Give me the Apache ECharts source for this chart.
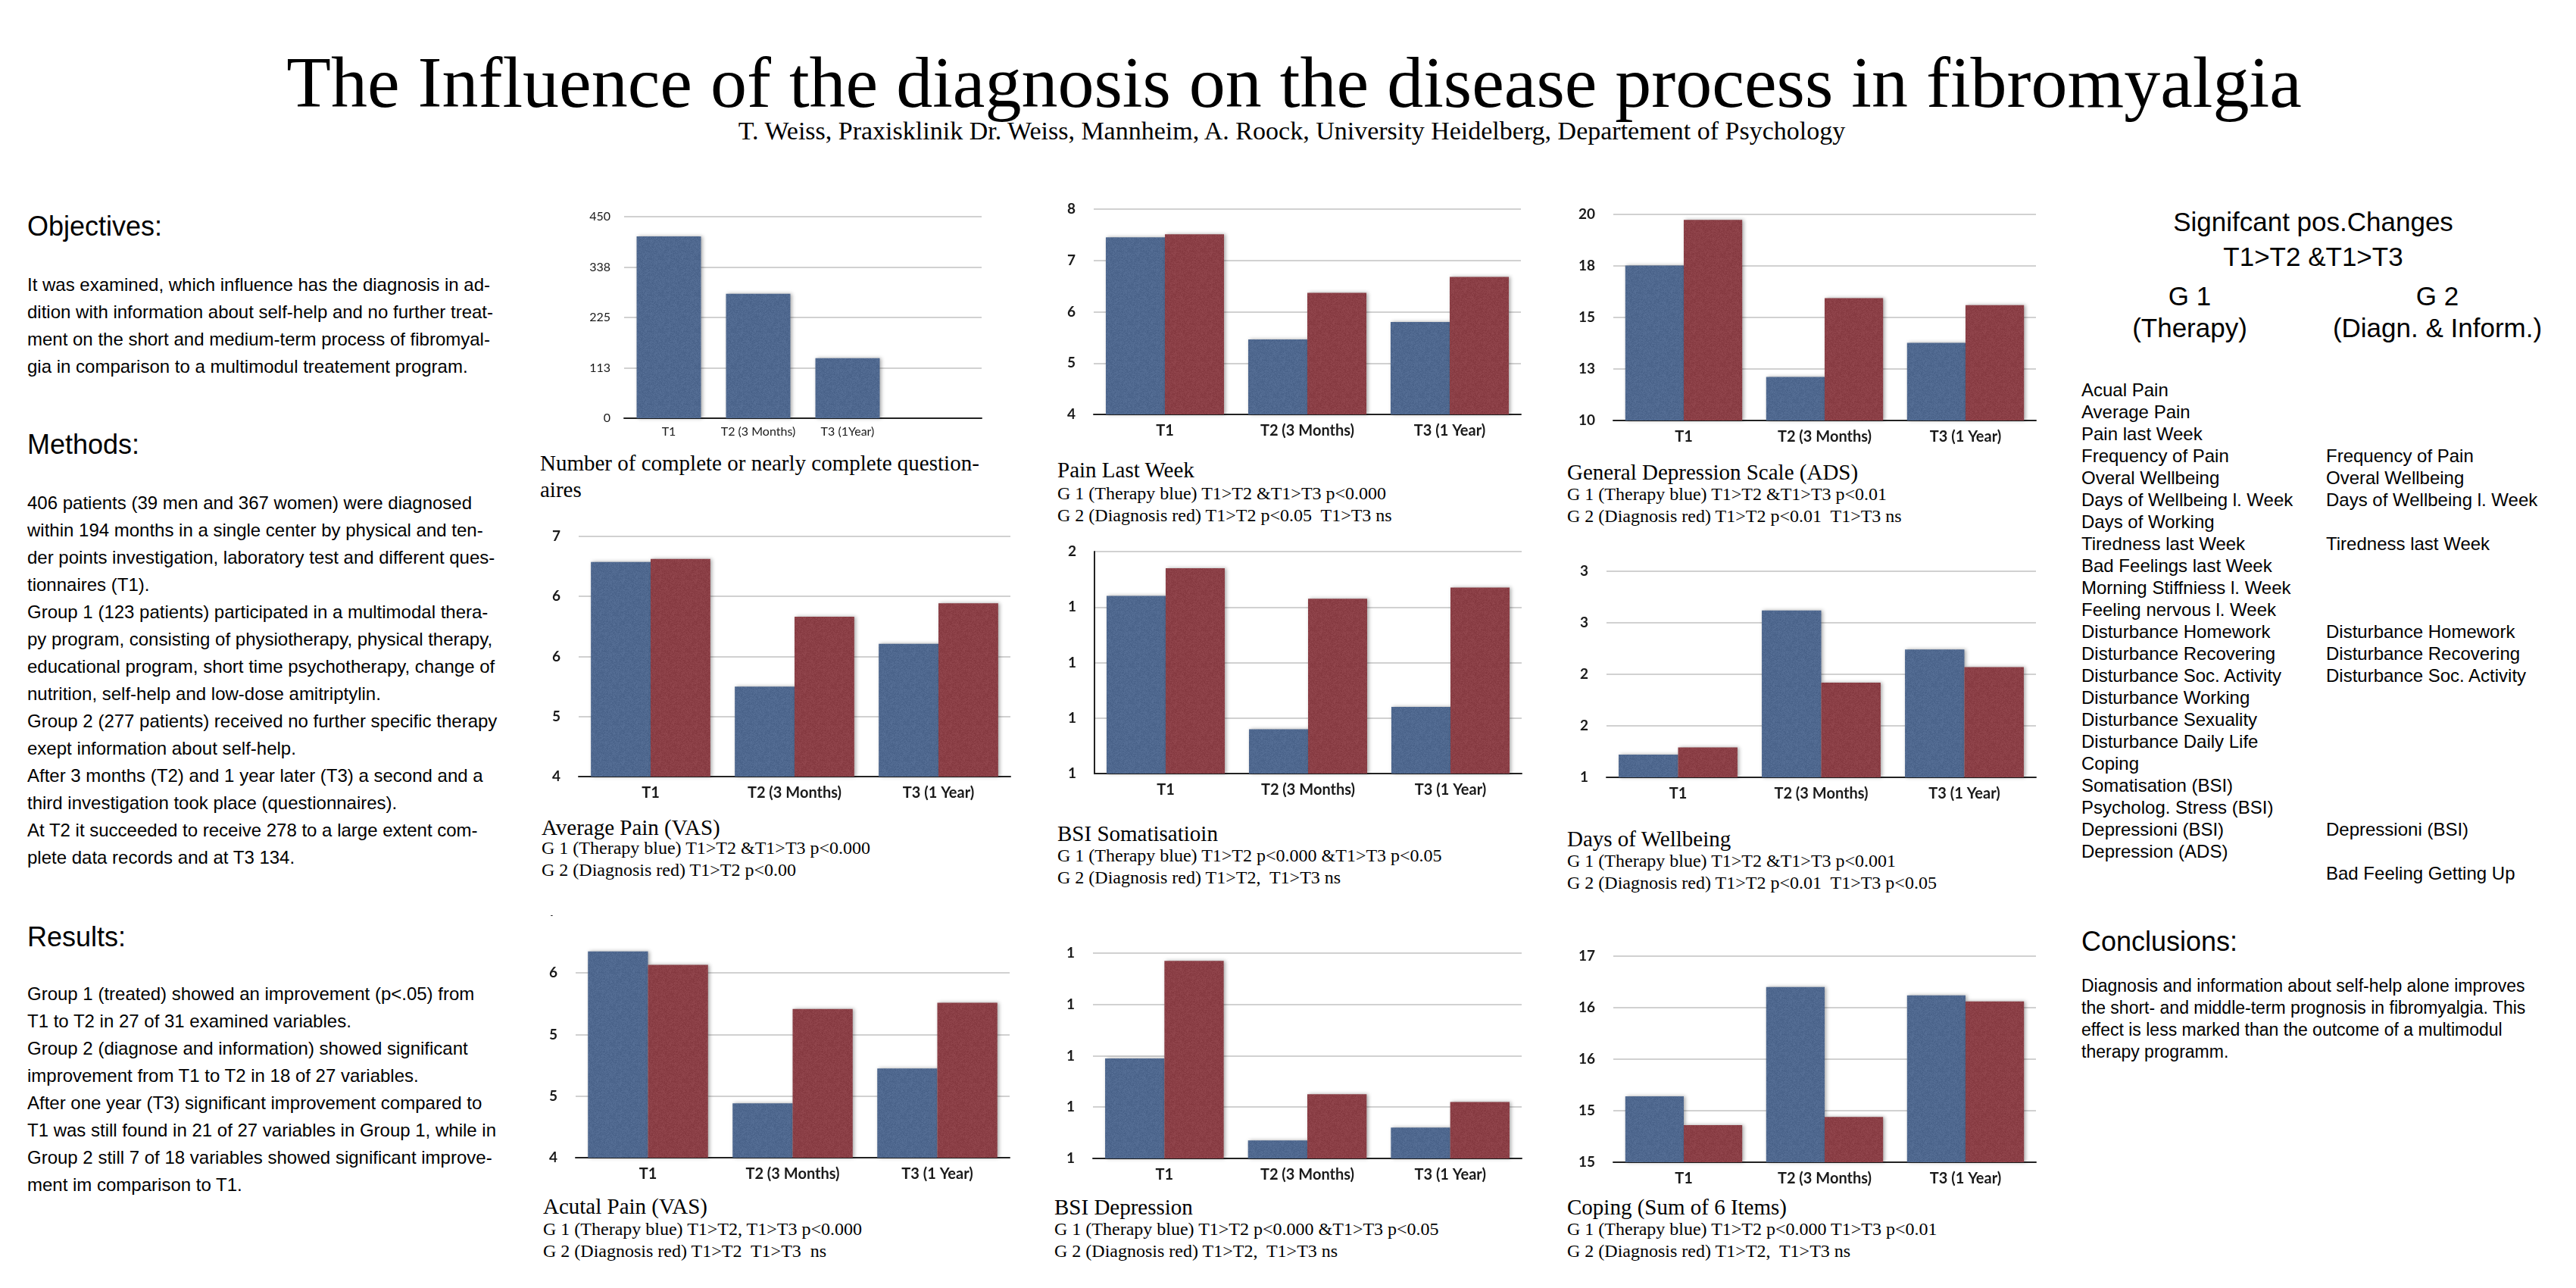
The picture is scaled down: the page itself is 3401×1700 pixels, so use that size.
<!DOCTYPE html>
<html>
<head>
<meta charset="utf-8">
<script src="https://cdn.jsdelivr.net/npm/echarts@6/dist/echarts.min.js"></script>
<style>
  html, body { margin: 0; padding: 0; background: #fff; }
  #page { position: relative; width: 3401px; height: 1700px; overflow: hidden; background: #fff; }
  .t { position: absolute; white-space: pre; color: #000; }
  .sans { font-family: "Liberation Sans", Arial, sans-serif; }
  .serif { font-family: "Liberation Serif", "Times New Roman", serif; }
  .chart { position: absolute; overflow: hidden; }
  .cap1 { font-size: 29px; line-height: 32px; }
  .cap2 { font-size: 24px; line-height: 29px; }
</style>
</head>
<body>
<div id="page">
  <!-- header -->
  <div class="t serif" style="left:8px;width:3401px;text-align:center;top:54px;font-size:96px;line-height:110px;">The Influence of the diagnosis on the disease process in fibromyalgia</div>
  <div class="t serif" style="left:5px;width:3401px;text-align:center;top:153px;font-size:34px;line-height:40px;">T. Weiss, Praxisklinik Dr. Weiss, Mannheim, A. Roock, University Heidelberg, Departement of Psychology</div>

  <!-- left column -->
  <div class="t sans" style="left:36px;top:277px;font-size:36px;line-height:44px;">Objectives:</div>
  <div class="t sans" style="left:36px;top:358px;font-size:24px;line-height:36px;">It was examined, which influence has the diagnosis in ad-
dition with information about self-help and no further treat-
ment on the short and medium-term process of fibromyal-
gia in comparison to a multimodul treatement program.</div>
  <div class="t sans" style="left:36px;top:565px;font-size:36px;line-height:44px;">Methods:</div>
  <div class="t sans" style="left:36px;top:646px;font-size:24px;line-height:36px;">406 patients (39 men and 367 women) were diagnosed
within 194 months in a single center by physical and ten-
der points investigation, laboratory test and different ques-
tionnaires (T1).
Group 1 (123 patients) participated in a multimodal thera-
py program, consisting of physiotherapy, physical therapy,
educational program, short time psychotherapy, change of
nutrition, self-help and low-dose amitriptylin.
Group 2 (277 patients) received no further specific therapy
exept information about self-help.
After 3 months (T2) and 1 year later (T3) a second and a
third investigation took place (questionnaires).
At T2 it succeeded to receive 278 to a large extent com-
plete data records and at T3 134.</div>
  <div class="t sans" style="left:36px;top:1215px;font-size:36px;line-height:44px;">Results:</div>
  <div class="t sans" style="left:36px;top:1294px;font-size:24px;line-height:36px;">Group 1 (treated) showed an improvement (p&lt;.05) from
T1 to T2 in 27 of 31 examined variables.
Group 2 (diagnose and information) showed significant
improvement from T1 to T2 in 18 of 27 variables.
After one year (T3) significant improvement compared to
T1 was still found in 21 of 27 variables in Group 1, while in
Group 2 still 7 of 18 variables showed significant improve-
ment im comparison to T1.</div>

  <!-- chart captions -->
  <div class="t serif cap1" style="left:713px;top:594px;line-height:35px;">Number of complete or nearly complete question-
aires</div>

  <div class="t serif cap1" style="left:1396px;top:604px;">Pain Last Week</div>
  <div class="t serif cap2" style="left:1396px;top:637px;">G 1 (Therapy blue) T1&gt;T2 &amp;T1&gt;T3 p&lt;0.000
G 2 (Diagnosis red) T1&gt;T2 p&lt;0.05  T1&gt;T3 ns</div>

  <div class="t serif cap1" style="left:2069px;top:607px;">General Depression Scale (ADS)</div>
  <div class="t serif cap2" style="left:2069px;top:638px;">G 1 (Therapy blue) T1&gt;T2 &amp;T1&gt;T3 p&lt;0.01
G 2 (Diagnosis red) T1&gt;T2 p&lt;0.01  T1&gt;T3 ns</div>

  <div class="t serif cap1" style="left:715px;top:1076px;">Average Pain (VAS)</div>
  <div class="t serif cap2" style="left:715px;top:1105px;">G 1 (Therapy blue) T1&gt;T2 &amp;T1&gt;T3 p&lt;0.000
G 2 (Diagnosis red) T1&gt;T2 p&lt;0.00</div>

  <div class="t serif cap1" style="left:1396px;top:1084px;">BSI Somatisatioin</div>
  <div class="t serif cap2" style="left:1396px;top:1115px;">G 1 (Therapy blue) T1&gt;T2 p&lt;0.000 &amp;T1&gt;T3 p&lt;0.05
G 2 (Diagnosis red) T1&gt;T2,  T1&gt;T3 ns</div>

  <div class="t serif cap1" style="left:2069px;top:1091px;">Days of Wellbeing</div>
  <div class="t serif cap2" style="left:2069px;top:1122px;">G 1 (Therapy blue) T1&gt;T2 &amp;T1&gt;T3 p&lt;0.001
G 2 (Diagnosis red) T1&gt;T2 p&lt;0.01  T1&gt;T3 p&lt;0.05</div>

  <div class="t serif cap1" style="left:717px;top:1576px;">Acutal Pain (VAS)</div>
  <div class="t serif cap2" style="left:717px;top:1608px;">G 1 (Therapy blue) T1&gt;T2, T1&gt;T3 p&lt;0.000
G 2 (Diagnosis red) T1&gt;T2  T1&gt;T3  ns</div>

  <div class="t serif cap1" style="left:1392px;top:1577px;">BSI Depression</div>
  <div class="t serif cap2" style="left:1392px;top:1608px;">G 1 (Therapy blue) T1&gt;T2 p&lt;0.000 &amp;T1&gt;T3 p&lt;0.05
G 2 (Diagnosis red) T1&gt;T2,  T1&gt;T3 ns</div>

  <div class="t serif cap1" style="left:2069px;top:1577px;">Coping (Sum of 6 Items)</div>
  <div class="t serif cap2" style="left:2069px;top:1608px;">G 1 (Therapy blue) T1&gt;T2 p&lt;0.000 T1&gt;T3 p&lt;0.01
G 2 (Diagnosis red) T1&gt;T2,  T1&gt;T3 ns</div>

  <!-- right column -->
  <div class="t sans" style="left:2754px;width:600px;text-align:center;top:270px;font-size:35px;line-height:46px;">Signifcant pos.Changes
T1&gt;T2 &amp;T1&gt;T3</div>
  <div class="t sans" style="left:2691px;width:400px;text-align:center;top:370px;font-size:35px;line-height:42px;">G 1
(Therapy)</div>
  <div class="t sans" style="left:3018px;width:400px;text-align:center;top:370px;font-size:35px;line-height:42px;">G 2
(Diagn. &amp; Inform.)</div>
  <div id="listG1" class="t sans" style="left:2748px;top:500px;font-size:24px;line-height:29px;"></div>
  <div id="listG2" class="t sans" style="left:3071px;top:500px;font-size:24px;line-height:29px;"></div>

  <div class="t sans" style="left:2748px;top:1221px;font-size:36px;line-height:44px;">Conclusions:</div>
  <div class="t sans" style="left:2748px;top:1287px;font-size:23px;line-height:29px;">Diagnosis and information about self-help alone improves
the short- and middle-term prognosis in fibromyalgia. This
effect is less marked than the outcome of a multimodul
therapy programm.</div>
</div>

<script>
// ---- data ----
const cats3 = ['T1', 'T2 (3 Months)', 'T3 (1 Year)'];

const countCats = ['T1', 'T2 (3 Months)', 'T3 (1Year)', ''];
const countValues = [406, 278, 134];
const countAxis = [0, 450, 112.5];

const painWeekG1 = [7.45, 5.46, 5.80];
const painWeekG2 = [7.51, 6.37, 6.68];
const painWeekAxis = [4, 8, 1];

const adsG1 = [17.52, 12.11, 13.77];
const adsG2 = [19.73, 15.94, 15.60];
const adsAxis = [10, 20, 2.5];

const avgPainG1 = [6.86, 5.20, 5.77];
const avgPainG2 = [6.90, 6.13, 6.31];
const avgPainAxis = [4, 7.2, 0.8];

const somG1 = [1.44, 0.96, 1.04];
const somG2 = [1.54, 1.43, 1.47];
const somAxis = [0.8, 1.6, 0.2];

const wellG1 = [1.22, 2.62, 2.24];
const wellG2 = [1.29, 1.92, 2.07];
const wellAxis = [1, 3, 0.5];

const acutePainG1 = [6.21, 4.73, 5.07];
const acutePainG2 = [6.08, 5.65, 5.71];
const acutePainAxis = [4.2, 6.6, 0.6];

const bsiDepG1 = [0.99, 0.67, 0.72];
const bsiDepG2 = [1.37, 0.85, 0.82];
const bsiDepAxis = [0.6, 1.4, 0.2];

const copingG1 = [15.14, 16.20, 16.12];
const copingG2 = [14.86, 14.94, 16.06];
const copingAxis = [14.5, 16.5, 0.5];

// significant changes list, '' = empty row
const listG1 = ['Acual Pain', 'Average Pain', 'Pain last Week', 'Frequency of Pain', 'Overal Wellbeing',
  'Days of Wellbeing l. Week', 'Days of Working', 'Tiredness last Week', 'Bad Feelings last Week',
  'Morning Stiffniess l. Week', 'Feeling nervous l. Week', 'Disturbance Homework', 'Disturbance Recovering',
  'Disturbance Soc. Activity', 'Disturbance Working', 'Disturbance Sexuality', 'Disturbance Daily Life',
  'Coping', 'Somatisation (BSI)', 'Psycholog. Stress (BSI)', 'Depressioni (BSI)', 'Depression (ADS)'];
const listG2 = ['', '', '', 'Frequency of Pain', 'Overal Wellbeing', 'Days of Wellbeing l. Week', '',
  'Tiredness last Week', '', '', '', 'Disturbance Homework', 'Disturbance Recovering',
  'Disturbance Soc. Activity', '', '', '', '', '', '', 'Depressioni (BSI)', '', 'Bad Feeling Getting Up'];

document.getElementById('listG1').textContent = listG1.join('\n');
document.getElementById('listG2').textContent = listG2.join('\n');

// ---- bar fill: flat colour with a fine fabric-like grain ----
function grain(r, g, b) {
  const c = document.createElement('canvas');
  c.width = c.height = 48;
  const ctx = c.getContext('2d');
  const img = ctx.createImageData(48, 48);
  let s = 12345;
  for (let i = 0; i < 48 * 48; i++) {
    s = (s * 1103515245 + 12345) & 0x7fffffff;
    const d = ((s >> 8) % 15) - 7;
    img.data[i * 4] = r + d;
    img.data[i * 4 + 1] = g + d;
    img.data[i * 4 + 2] = b + d;
    img.data[i * 4 + 3] = 255;
  }
  ctx.putImageData(img, 0, 0);
  return { image: c, repeat: 'repeat' };
}
const BLUE = grain(79, 104, 143);
const RED = grain(139, 63, 70);

// ---- layout: plot box [left, top, width, height] in page pixels ----
const chartDefs = [
  { box: [824, 286, 472, 266], cats: countCats, data: [countValues], axis: countAxis, small: true, gap: '28%' },
  { box: [1444, 276, 564, 271], cats: cats3, data: [painWeekG1, painWeekG2], axis: painWeekAxis },
  { box: [2130, 283, 558, 272], cats: cats3, data: [adsG1, adsG2], axis: adsAxis },
  { box: [764, 708, 570, 317], cats: cats3, data: [avgPainG1, avgPainG2], axis: avgPainAxis },
  { box: [1445, 728, 564, 293], cats: cats3, data: [somG1, somG2], axis: somAxis, yLine: true },
  { box: [2121, 754, 567, 272], cats: cats3, data: [wellG1, wellG2], axis: wellAxis },
  { box: [760, 1203, 573, 325], cats: cats3, data: [acutePainG1, acutePainG2], axis: acutePainAxis, clipTop: 1208 },
  { box: [1443, 1258, 566, 271], cats: cats3, data: [bsiDepG1, bsiDepG2], axis: bsiDepAxis },
  { box: [2130, 1262, 558, 272], cats: cats3, data: [copingG1, copingG2], axis: copingAxis }
];

const page = document.getElementById('page');

chartDefs.forEach(function (def) {
  const [px, py, pw, ph] = def.box;
  const padL = 80, padT = 20;
  const top = def.clipTop != null ? def.clipTop : py - padT;
  const div = document.createElement('div');
  div.className = 'chart';
  div.style.left = (px - padL) + 'px';
  div.style.top = top + 'px';
  div.style.width = (pw + padL + 30) + 'px';
  div.style.height = (py + ph - top + 50) + 'px';
  page.appendChild(div);

  const labelFont = def.small
    ? { fontFamily: 'Lato', fontSize: 16, color: '#1a1a1a' }
    : { fontFamily: 'Lato', fontSize: 20, fontWeight: 'bold', color: '#1a1a1a' };

  const chart = echarts.init(div, null, { renderer: 'canvas' });
  chart.setOption({
    animation: false,
    grid: { left: padL, top: py - top, width: pw, height: ph, containLabel: false, outerBoundsMode: 'none' },
    xAxis: {
      type: 'category',
      data: def.cats,
      axisTick: { show: false },
      axisLine: { lineStyle: { color: '#222', width: 2 } },
      axisLabel: Object.assign({ margin: def.small ? 10 : 12, interval: 0 }, labelFont)
    },
    yAxis: {
      type: 'value',
      min: def.axis[0],
      max: def.axis[1],
      interval: def.axis[2],
      axisLine: { show: !!def.yLine, lineStyle: { color: '#222', width: 2 } },
      axisTick: { show: false },
      splitLine: { lineStyle: { color: '#c2c2c2', width: 1.5 } },
      axisLabel: Object.assign({
        margin: def.small ? 18 : 24,
        formatter: function (v) { return String(Math.round(v)); }
      }, labelFont, def.small ? {} : { fontSize: 19 })
    },
    series: def.data.map(function (vals, i) {
      return {
        type: 'bar',
        data: vals,
        barGap: '0%',
        barCategoryGap: def.gap || '17%',
        itemStyle: {
          color: i === 0 ? BLUE : RED,
          shadowColor: 'rgba(0,0,0,0.35)',
          shadowBlur: 5,
          shadowOffsetX: 2,
          shadowOffsetY: 0
        }
      };
    })
  });
});
</script>
</body>
</html>
